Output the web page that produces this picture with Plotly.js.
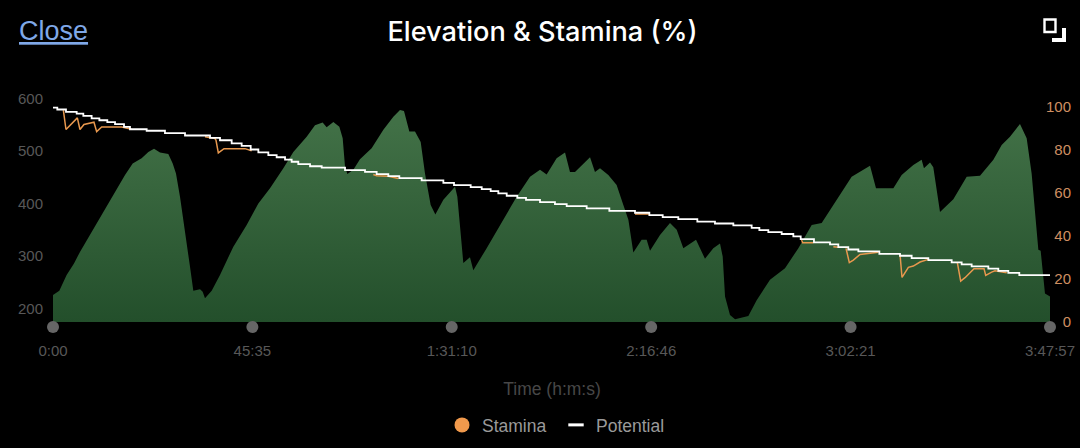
<!DOCTYPE html>
<html>
<head>
<meta charset="utf-8">
<script src="https://cdn.plot.ly/plotly-3.0.1.min.js"></script>
<style>html,body{margin:0;padding:0;background:#000;overflow:hidden}#c{width:1080px;height:448px}</style>
</head>
<body>
<div id="c"></div>
<script>
const tickSeconds = [0, 2735, 5470, 8206, 10941, 13677];
const tickLabels = ["0:00", "45:35", "1:31:10", "2:16:46", "3:02:21", "3:47:57"];
const elevTicks = [200, 300, 400, 500, 600];
const staminaTicks = [0, 20, 40, 60, 80, 100];
const staminaTickLabels = ["\u2007\u20070", "\u200720", "\u200740", "\u200760", "\u200780", "100"];

const elevTime = [0,87,187,288,370,471,599,736,873,988,1093,1216,1308,1386,1468,1582,1642,1687,1742,1788,1843,1879,1925,2017,2053,2085,2177,2291,2474,2657,2817,2977,3160,3297,3480,3594,3699,3754,3846,3928,3974,4006,4038,4120,4211,4371,4532,4669,4760,4815,4888,4966,5044,5103,5181,5245,5355,5515,5547,5583,5629,5720,5766,5949,6132,6361,6544,6681,6772,6909,7024,7092,7161,7367,7435,7504,7618,7732,7824,7893,7961,8075,8144,8190,8327,8464,8556,8647,8821,8944,9058,9150,9187,9219,9287,9356,9539,9653,9836,10042,10225,10408,10545,10728,10956,11208,11290,11528,11642,11802,11916,11948,12031,12076,12168,12351,12534,12717,12900,13014,13128,13265,13357,13425,13517,13549,13608,13677];
const elevation = [226,234,264,286,308,332,362,394,426,454,476,486,498,504,497,494,476,457,413,369,324,280,234,237,232,220,234,264,318,359,400,429,467,498,527,549,554,545,555,546,524,470,456,464,484,505,540,565,578,576,537,537,517,457,397,379,407,432,413,350,287,298,273,315,359,413,451,464,455,486,497,460,460,488,460,467,454,435,397,369,307,331,331,310,340,363,350,315,331,295,315,324,299,223,188,180,186,216,255,277,315,359,363,403,451,472,429,429,454,473,483,467,478,469,384,408,451,453,483,511,527,551,524,457,312,310,229,223];

const potentialTime = [0,59,178,325,416,530,636,745,851,974,1056,1285,1536,1811,2154,2291,2451,2588,2712,2817,2954,3068,3183,3274,3365,3526,3686,4006,4280,4440,4600,4751,5057,5355,5501,5730,5881,6004,6109,6224,6370,6489,6681,6886,7047,7321,7632,7984,8181,8364,8578,8839,9081,9333,9584,9690,9813,9996,10156,10257,10439,10659,10773,10910,11048,11336,11619,11779,12008,12328,12465,12602,12831,12968,13105,13256,13677];
const potential = [99.7,98.8,97.7,96.9,95.8,94.7,93.8,92.9,92,90.7,89.6,88.9,87.8,86.7,85.6,84.5,83,81.9,80.2,78.9,77.6,76.6,75.5,74.5,73.4,72.4,71.8,70.6,69.8,68.7,67.8,66.9,65.8,64.7,63.6,62.7,61.8,60.8,59.8,58.7,57.7,56.8,55.7,54.8,53.9,52.8,51.7,50.8,49.7,48.8,47.8,46.7,45.8,44.9,43.8,42.7,41.8,40.9,39.8,38.5,37,36.1,34.8,33.7,32.8,31.7,30.8,29.7,28.8,27.7,26.8,25.9,24.8,23.8,22.8,21.8,21.8];

const staminaTime = [142,178,334,370,425,508,562,599,668,942,1079,null,2085,2222,2236,2268,2346,2634,2725,null,4394,4440,4600,4737,null,7984,8181,null,10270,10284,10430,null,10705,10773,null,10879,10924,10979,11071,11322,null,11619,11647,11734,11802,11894,12008,null,12406,12452,12511,12634,12772,12795,12877,12922,13083];
const stamina = [98.5,89.5,94.9,89.5,91.8,92.6,92.9,88.5,90.7,90.7,89.6,null,86.1,85.3,84.5,78.6,80.6,80.6,79.6,null,68.6,68,67.8,66.7,null,50.2,50.2,null,38.1,36.8,36.8,null,35,34.7,null,34.2,27.6,28.8,31.4,32.4,null,31.6,20.7,25.4,26,27.9,29.1,null,27.6,19,20.6,24.8,24.8,21.7,23.2,23.8,22.9];

const FONT = '"Liberation Sans", Arial, sans-serif';
const L = 53, R = 1051, T = 97, B = 322;
const xMax = 13677 * (R - L) / 997;
const px = v => (v - L) / (R - L);
const py = v => (B - v) / (B - T);
const rect = (x0, y0, x1, y1) => `M${px(x0)},${py(y0)} L${px(x1)},${py(y0)} L${px(x1)},${py(y1)} L${px(x0)},${py(y1)} Z`;

const traces = [
  { x: elevTime, y: elevation, type: 'scatter', mode: 'lines', line: { width: 0, color: '#3a6a40' },
    fill: 'tozeroy',
    fillgradient: { type: 'vertical', start: 174, stop: 551, colorscale: [[0, '#234f2b'], [1, '#417046']] },
    showlegend: false, hoverinfo: 'skip', yaxis: 'y' },
  { x: staminaTime, y: stamina, type: 'scatter', mode: 'lines', line: { color: '#e8984e', width: 1.5 },
    connectgaps: false, showlegend: false, yaxis: 'y2' },
  { x: potentialTime, y: potential, type: 'scatter', mode: 'lines', line: { color: '#ffffff', width: 1.8, shape: 'hv' },
    showlegend: false, yaxis: 'y2' },
  { x: [null], y: [null], type: 'scatter', mode: 'markers', name: 'Stamina',
    marker: { size: 15, color: '#f0994c' }, yaxis: 'y2', legend: 'legend' },
  { x: [null], y: [null], type: 'scatter', mode: 'markers', name: 'Potential',
    marker: { size: 11, symbol: 'line-ew', color: '#ffffff', line: { color: '#ffffff', width: 3 } }, yaxis: 'y2', legend: 'legend2' }
];

const legendBase = { orientation: 'h', yanchor: 'middle', y: py(425), xanchor: 'left',
  font: { size: 17.5, color: '#9a9a9a', family: FONT }, bgcolor: 'rgba(0,0,0,0)', itemclick: false, itemdoubleclick: false };

const tickDots = tickSeconds.map(t => ({
  type: 'circle', xref: 'paper', yref: 'paper', layer: 'above',
  xsizemode: 'pixel', ysizemode: 'pixel', xanchor: t / xMax, yanchor: py(327),
  x0: -6, x1: 6, y0: -6, y1: 6, fillcolor: '#666666', line: { width: 0 }
}));

const layout = {
  width: 1080, height: 448,
  paper_bgcolor: '#000', plot_bgcolor: '#000',
  font: { family: FONT },
  margin: { l: L, r: 1080 - R, t: T, b: 448 - B, pad: 0, autoexpand: false },
  title: { text: 'Elevation &amp; Stamina (%)', font: { size: 27.2, color: '#fff', family: 'Inter, ' + FONT, weight: 500 },
    x: px(542.5), xanchor: 'center', xref: 'paper', y: 1 - 31 / 448, yanchor: 'middle' },
  xaxis: { range: [0, xMax], tickvals: tickSeconds, ticktext: tickLabels,
    showgrid: false, zeroline: false, showline: false, ticks: 'outside', ticklen: 15, tickcolor: 'rgba(0,0,0,0)',
    tickfont: { size: 15, color: '#585858' },
    title: { text: 'Time (h:m:s)', font: { size: 17.5, color: '#474747' }, standoff: 24 } },
  yaxis: { range: [174.7, 602.5], tickvals: elevTicks, showgrid: false, zeroline: false, showline: false,
    ticks: 'outside', ticklen: 6, tickcolor: 'rgba(0,0,0,0)', tickfont: { size: 15, color: '#585858' } },
  yaxis2: { overlaying: 'y', side: 'right', range: [0, 104.6], tickvals: staminaTicks, ticktext: staminaTickLabels,
    showgrid: false, zeroline: false, showline: false, ticks: '', ticklabelstandoff: -6,
    tickfont: { size: 15, color: '#cf8f62' } },
  showlegend: true,
  legend: Object.assign({}, legendBase, { x: px(442) }),
  legend2: Object.assign({}, legendBase, { x: px(556) }),
  annotations: [
    { text: '<u>Close</u>', xref: 'paper', yref: 'paper', x: px(17), y: py(31), xanchor: 'left', yanchor: 'middle',
      showarrow: false, align: 'left', font: { size: 27, color: '#7fa8e8', family: FONT } }
  ],
  shapes: [
    ...tickDots,
    { type: 'path', xref: 'paper', yref: 'paper', path: rect(1044.5, 19.5, 1055.5, 32), line: { color: '#fff', width: 2.4 }, fillcolor: 'rgba(0,0,0,0)' },
    { type: 'path', xref: 'paper', yref: 'paper',
      path: `M${px(1062)},${py(28)} L${px(1066)},${py(28)} L${px(1066)},${py(42)} L${px(1052)},${py(42)} L${px(1052)},${py(38)} L${px(1062)},${py(38)} Z`,
      line: { width: 0 }, fillcolor: '#fff' }
  ]
};

Plotly.newPlot('c', traces, layout, { displayModeBar: false, staticPlot: true });
</script>
</body>
</html>
